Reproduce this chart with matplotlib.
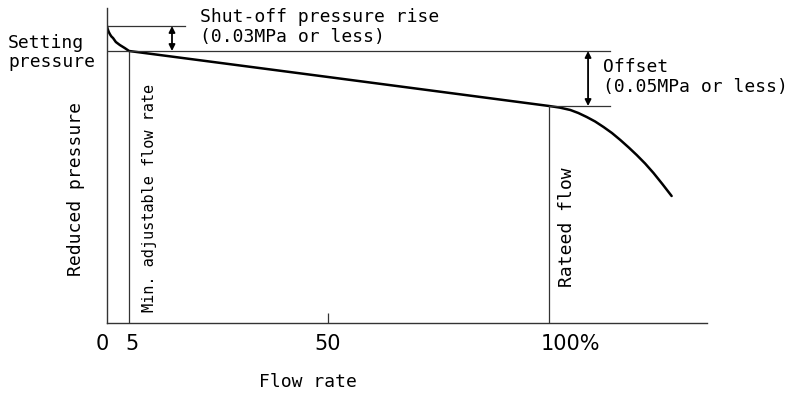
"""
Reduced pressure vs flow rate characteristic (pressure reducing valve)
"""

import matplotlib
matplotlib.use('Agg')
import matplotlib.pyplot as plt
import matplotlib.transforms as mtransforms
from matplotlib import font_manager

# flow rate (%) and reduced pressure (arbitrary units)
flow = [0, 0.15, 0.4, 0.7, 1.0, 1.36, 2.0, 2.9, 4.0, 5,
        50, 100, 102.4, 104.8, 106.6, 108.5, 110.4, 112.3, 114.2,
        116.1, 118.0, 119.8, 121.7, 123.6, 125.6, 127.7]
pressure = [297, 294, 291, 288.5, 286.5, 285, 281, 278, 275, 272,
            246, 217, 215.4, 213, 210, 206, 201.5, 196, 190,
            183, 175.5, 168, 159.5, 150, 139, 127]

shutoff_pressure = 297
setting_pressure = 272
rated_pressure = 217
min_flow = 5
rated_flow = 100

tick_pos = [0, 5, 50, 100]
tick_labels = ['0', '5', '50', '100%']

MONO = 'DejaVu Sans Mono'
names = {f.name for f in font_manager.fontManager.ttflist}
NARROW = 'Liberation Sans Narrow' if 'Liberation Sans Narrow' in names else 'DejaVu Sans'
TICK_SIZE = 17 if NARROW == 'Liberation Sans Narrow' else 15

fig = plt.figure(figsize=(8, 3.93), dpi=100)
ax = fig.add_axes([107 / 800, 1 - 323 / 393, 600 / 800, 315 / 393])

ax.set_xlim(0, 135.7)
ax.set_ylim(0, 315)

# characteristic curve
ax.plot(flow, pressure, color='black', lw=1.8, solid_capstyle='round',
        solid_joinstyle='round')

# reference lines
thin = dict(color='#333333', lw=0.9)
ax.plot([0, 17.6], [shutoff_pressure, shutoff_pressure], **thin)
ax.plot([0, 113.8], [setting_pressure, setting_pressure], **thin)
ax.plot([rated_flow, 113.8], [rated_pressure, rated_pressure], **thin)
ax.plot([min_flow, min_flow], [0, setting_pressure], **thin)
ax.plot([rated_flow, rated_flow], [0, rated_pressure], **thin)

# double arrows
arrow = dict(arrowstyle='<|-|>', color='black', lw=1.3, mutation_scale=9,
             shrinkA=0, shrinkB=0)
ax.annotate('', xy=(14.7, shutoff_pressure), xytext=(14.7, setting_pressure),
            arrowprops=arrow)
ax.annotate('', xy=(108.8, setting_pressure), xytext=(108.8, rated_pressure),
            arrowprops=arrow)

# annotations
ax.text(21, 296, 'Shut-off pressure rise\n(0.03MPa or less)', family=MONO,
        fontsize=13, ha='left', va='center', linespacing=1.1)
ax.text(112.2, 246, 'Offset\n(0.05MPa or less)', family=MONO,
        fontsize=13, ha='left', va='center', linespacing=1.1)
ax.text(9.5, 11, 'Min. adjustable flow rate', family=MONO, fontsize=11,
        rotation=90, ha='center', va='bottom')
ax.text(104, 36, 'Rateed flow', family=MONO, fontsize=13,
        rotation=90, ha='center', va='bottom')

# axes styling
for side in ['top', 'right']:
    ax.spines[side].set_visible(False)
for side in ['left', 'bottom']:
    ax.spines[side].set_linewidth(1.0)
    ax.spines[side].set_color('#333333')

ax.set_yticks([])
ax.set_xticks(tick_pos)
ax.set_xticklabels(tick_labels, family=NARROW, fontsize=TICK_SIZE)
ax.tick_params(axis='x', direction='in', length=7, width=0.9, color='#333333',
               pad=8)
# only the 50 tick has a visible mark
for i, t in enumerate(ax.xaxis.get_major_ticks()):
    if tick_pos[i] != 50:
        t.tick1line.set_visible(False)
labels = ax.get_xticklabels()
shifts = [-5, 3, 0, 0]
for lab, dx in zip(labels, shifts):
    lab.set_transform(lab.get_transform() +
                      mtransforms.ScaledTranslation(dx / 100, 0, fig.dpi_scale_trans))
labels[-1].set_horizontalalignment('left')
labels[-1].set_transform(labels[-1].get_transform() +
                         mtransforms.ScaledTranslation(-8 / 100, 0, fig.dpi_scale_trans))

# outside labels
fig.text(8 / 800, 1 - 52.5 / 393, 'Setting\npressure', family=MONO, fontsize=13,
         ha='left', va='center', linespacing=1.1)
fig.text(76 / 800, 1 - 189 / 393, 'Reduced pressure', family=MONO, fontsize=13,
         rotation=90, ha='center', va='center')
fig.text(308 / 800, 1 - 382 / 393, 'Flow rate', family=MONO, fontsize=13,
         ha='center', va='center')

fig.savefig('out.png', dpi=100)
